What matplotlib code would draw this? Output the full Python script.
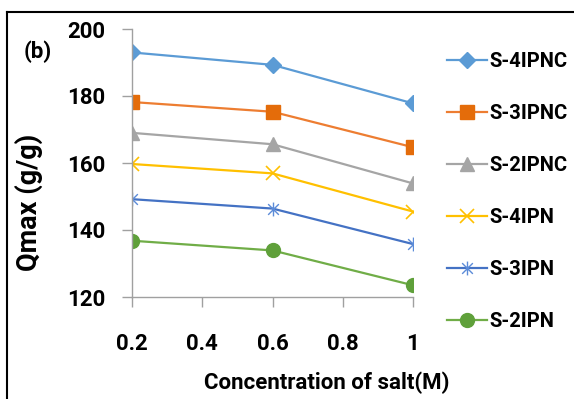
import numpy as np
import matplotlib as mp
import matplotlib.pyplot as plt
from matplotlib.path import Path

salt = [0.2, 0.6, 1.0]
series = ["S-4IPNC", "S-3IPNC", "S-2IPNC", "S-4IPN", "S-3IPN", "S-2IPN"]
qmax = {
    "S-4IPNC": [193.0, 189.3, 177.8],
    "S-3IPNC": [178.2, 175.3, 164.7],
    "S-2IPNC": [169.0, 165.6, 153.9],
    "S-4IPN": [159.7, 156.9, 145.5],
    "S-3IPN": [149.2, 146.4, 135.8],
    "S-2IPN": [136.8, 133.9, 123.5],
}
xticks = [0.2, 0.4, 0.6, 0.8, 1.0]
xticklabels = ["0.2", "0.4", "0.6", "0.8", "1"]
yticks = [120, 140, 160, 180, 200]

# office-style asterisk: x plus a vertical bar
star = Path(
    [(-1, -1), (1, 1), (-1, 1), (1, -1), (0, -1.3), (0, 1.3)],
    [Path.MOVETO, Path.LINETO, Path.MOVETO, Path.LINETO, Path.MOVETO, Path.LINETO],
)

styles = {
    "S-4IPNC": dict(color="#5B9BD5", marker="D", markersize=8),
    "S-3IPNC": dict(color="#ED7D31", marker="s", markersize=9.5, mfc="#E46C0A", mec="#E46C0A"),
    "S-2IPNC": dict(color="#A5A5A5", marker="^", markersize=10),
    "S-4IPN": dict(color="#FFC000", marker="x", markersize=10, mew=1.2),
    "S-3IPN": dict(color="#4472C4", marker=star, markersize=10, mew=1.0, mfc="none", mec="#5B8BD8"),
    "S-2IPN": dict(color="#70AD47", marker="o", markersize=10, mfc="#5FA03A", mec="#5FA03A"),
}

mp.rcParams["font.family"] = ["Roboto", "DejaVu Sans"]
mp.rcParams["font.weight"] = "bold"

fig = plt.figure(figsize=(5.74, 3.99), dpi=100)
ax = fig.add_axes([132 / 574, 102 / 399, 281 / 574, 268 / 399])

for name in series:
    ax.plot(salt, qmax[name], linewidth=1.6, label=name, **styles[name])

ax.set_xlim(0.2, 1.0)
ax.set_ylim(120, 200)
ax.set_xticks(xticks)
ax.set_xticklabels(xticklabels)
ax.set_yticks(yticks)
ax.tick_params(axis="both", colors="#A0A0A0", labelcolor="black", labelsize=16, width=1, length=7)
ax.tick_params(axis="x", pad=19)
ax.tick_params(axis="y", pad=12)
for s in ["top", "right"]:
    ax.spines[s].set_visible(False)
for s in ["left", "bottom"]:
    ax.spines[s].set_color("#A0A0A0")
    ax.spines[s].set_linewidth(1)
for lab in ax.get_xticklabels() + ax.get_yticklabels():
    lab.set_fontweight("bold")
ax.patch.set_alpha(0)

fig.text(327 / 574, 1 - 383 / 399, "Concentration of salt(M)", ha="center", va="center",
         fontsize=16, fontweight="bold")
fig.text(29 / 574, 1 - 202 / 399, "Qmax (g/g)", ha="center", va="center", rotation=90,
         fontsize=19.5, fontweight="bold")
fig.text(38 / 574, 1 - 52 / 399, "(b)", ha="center", va="center", fontsize=16, fontweight="bold")

leg = fig.legend(loc="upper left", bbox_to_anchor=(447 / 574, 1 - 52 / 399), frameon=False,
                 handlelength=2.0, handletextpad=0.1, labelspacing=1.64,
                 borderpad=0, borderaxespad=0,
                 prop={"weight": "bold", "size": 14.5})

# frame of the original figure (only top and left visible)
fig.add_artist(plt.Line2D([7 / 574, 1], [1 - 12 / 399, 1 - 12 / 399], color="black", lw=1.5,
                          transform=fig.transFigure))
fig.add_artist(plt.Line2D([7 / 574, 7 / 574], [0, 1 - 12 / 399], color="black", lw=1.5,
                          transform=fig.transFigure))

fig.savefig("out.png", dpi=100, facecolor="white")
plt.close()
